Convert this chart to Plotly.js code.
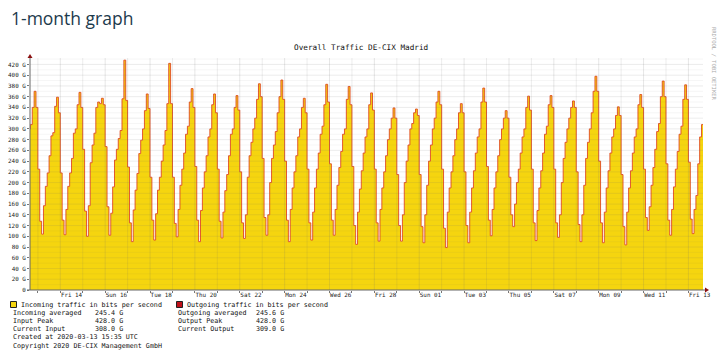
<!DOCTYPE html>
<html><head><meta charset="utf-8">
<script src="https://cdn.plot.ly/plotly-3.0.1.min.js"></script>
<style>html,body{margin:0;padding:0;background:#fff;}#chart{width:720px;height:358px;}</style>
</head><body><div id="chart"></div>
<script>
// 2-hour average values (G bit/s), one array per calendar day (bins 00-02 ... 22-24)
const feb12 = [300, 308, 340, 370, 340];               // from 14:00
const feb13 = [225, 128, 104, 157, 193, 218, 250, 287, 293, 342, 359, 330];
const feb14 = [218, 130, 103, 150, 193, 218, 245, 292, 300, 345, 368, 340];
const feb15 = [262, 147, 100, 157, 237, 270, 292, 340, 350, 347, 357, 345];
const feb16 = [267, 155, 102, 143, 192, 242, 262, 282, 297, 356, 428, 353];
const feb17 = [229, 125, 90, 149, 186, 217, 254, 279, 300, 334, 365, 338];
const feb18 = [210, 130, 93, 142, 186, 210, 240, 270, 297, 347, 422, 347];
const feb19 = [210, 124, 99, 150, 195, 225, 255, 290, 305, 350, 375, 340];
const feb20 = [230, 130, 90, 148, 190, 220, 250, 285, 300, 345, 365, 330];
const feb21 = [225, 128, 97, 145, 185, 215, 250, 290, 300, 340, 362, 335];
const feb22 = [220, 125, 96, 140, 210, 250, 275, 300, 320, 355, 384, 360];
const feb23 = [245, 135, 102, 140, 200, 245, 270, 295, 330, 360, 391, 355];
const feb24 = [240, 130, 90, 150, 190, 220, 250, 285, 300, 340, 357, 330];
const feb25 = [225, 125, 93, 145, 190, 225, 255, 290, 305, 345, 383, 350];
const feb26 = [235, 130, 102, 150, 195, 228, 258, 290, 300, 355, 379, 345];
const feb27 = [230, 120, 85, 145, 188, 222, 255, 285, 300, 345, 367, 335];
const feb28 = [225, 125, 91, 150, 190, 220, 250, 280, 300, 320, 339, 320];
const feb29 = [215, 120, 91, 140, 200, 240, 270, 300, 310, 330, 337, 325];
const mar01 = [215, 118, 88, 140, 195, 240, 270, 300, 320, 350, 370, 345];
const mar02 = [225, 115, 79, 145, 190, 220, 250, 280, 300, 330, 347, 330];
const mar03 = [220, 120, 88, 145, 190, 222, 255, 285, 300, 350, 376, 350];
const mar04 = [230, 130, 101, 150, 190, 220, 250, 280, 300, 320, 334, 320];
const mar05 = [210, 140, 118, 160, 200, 225, 255, 285, 300, 340, 361, 335];
const mar06 = [225, 125, 92, 148, 190, 222, 255, 290, 305, 345, 362, 340];
const mar07 = [225, 125, 98, 140, 200, 245, 275, 300, 320, 340, 352, 340];
const mar08 = [220, 122, 90, 140, 195, 245, 275, 300, 330, 370, 398, 370];
const mar09 = [240, 125, 88, 145, 190, 222, 255, 285, 300, 325, 341, 325];
const mar10 = [215, 118, 84, 145, 190, 222, 255, 285, 300, 345, 364, 340];
const mar11 = [225, 135, 111, 155, 195, 228, 262, 295, 310, 360, 389, 360];
const mar12 = [235, 130, 102, 150, 192, 225, 258, 290, 305, 355, 382, 355];
const mar13 = [238, 132, 105, 150, 176, 235, 285, 308];   // up to 16:00

const days = [feb12, feb13, feb14, feb15, feb16, feb17, feb18, feb19, feb20, feb21, feb22,
  feb23, feb24, feb25, feb26, feb27, feb28, feb29, mar01, mar02, mar03, mar04, mar05,
  mar06, mar07, mar08, mar09, mar10, mar11, mar12, mar13];

const tickDates = ['2020-02-14 12:00','2020-02-16 12:00','2020-02-18 12:00','2020-02-20 12:00',
  '2020-02-22 12:00','2020-02-24 12:00','2020-02-26 12:00','2020-02-28 12:00','2020-03-01 12:00',
  '2020-03-03 12:00','2020-03-05 12:00','2020-03-07 12:00','2020-03-09 12:00','2020-03-11 12:00',
  '2020-03-13 12:00'];
const tickLabels = ['Fri 14','Sun 16','Tue 18','Thu 20','Sat 22','Mon 24','Wed 26','Fri 28',
  'Sun 01','Tue 03','Thu 05','Sat 07','Mon 09','Wed 11','Fri 13'];
const yTicks = [0,20,40,60,80,100,120,140,160,180,200,220,240,260,280,300,320,340,360,380,400,420];
const yTickText = yTicks.map(v => v === 0 ? '0' : v + ' G');

const legendLeft = [['Incoming averaged', '245.4 G'], ['Input Peak', '428.0 G'], ['Current Input', '308.0 G']];
const legendRight = [['Outgoing averaged', '245.6 G'], ['Output Peak', '428.0 G'], ['Current Output', '309.0 G']];

function fmt(ms){ const d = new Date(ms); const p = n => String(n).padStart(2,'0');
  return d.getUTCFullYear()+'-'+p(d.getUTCMonth()+1)+'-'+p(d.getUTCDate())+' '+p(d.getUTCHours())+':'+p(d.getUTCMinutes()); }

const base = Date.UTC(2020, 1, 12);
const xs = [], ys = [];
let lastT = 0, lastV = 0;
days.forEach((arr, i) => {
  const off = (i === 0) ? 24 - 2 * arr.length : 0;
  arr.forEach((v, j) => { lastT = base + i * 864e5 + (off + 2 * j) * 36e5; xs.push(fmt(lastT)); ys.push(v); lastV = v; });
});
xs.push(fmt(lastT + 2 * 36e5)); ys.push(lastV);

// pixel helpers for plot area (x 30..703, y 58..290)
const L = 30, R = 703, T = 58, B = 290, W = 720, H = 358;
const px = x => (x - L) / (R - L);
const py = y => (B - y) / (B - T);

const shapes = [];
// grid lines above fill
for (let i = 1; i <= 30; i++) {
  shapes.push({type:'line', xref:'x', yref:'paper', x0: fmt(base + i*864e5), x1: fmt(base + i*864e5), y0:0, y1:1,
    line:{color: (i % 2 === 0) ? 'rgba(110,110,110,0.17)' : 'rgba(110,110,110,0.12)', width:1}, layer:'above'});
}
for (let v = 10; v <= 430; v += 10) {
  shapes.push({type:'line', xref:'paper', yref:'y', x0:0, x1:1, y0:v, y1:v,
    line:{color: v % 20 === 0 ? 'rgba(110,110,110,0.13)' : 'rgba(110,110,110,0.06)', width:1}, layer:'above'});
}
// axes lines
shapes.push({type:'line', xref:'paper', yref:'paper', x0:px(30), x1:px(30), y0:py(290), y1:py(57), line:{color:'#666', width:1}, layer:'above'});
shapes.push({type:'line', xref:'paper', yref:'paper', x0:px(27), x1:px(706), y0:py(290), y1:py(290), line:{color:'#666', width:1}, layer:'above'});
// arrows
shapes.push({type:'path', xref:'paper', yref:'paper', path:`M ${px(27.5)} ${py(58)} L ${px(32.5)} ${py(58)} L ${px(30)} ${py(54)} Z`, fillcolor:'#8b1010', line:{width:0}, layer:'above'});
shapes.push({type:'path', xref:'paper', yref:'paper', path:`M ${px(705)} ${py(287.5)} L ${px(705)} ${py(292.5)} L ${px(709)} ${py(290)} Z`, fillcolor:'#8b1010', line:{width:0}, layer:'above'});
// legend squares
shapes.push({type:'rect', xref:'paper', yref:'paper', x0:px(10.5), x1:px(16.5), y0:py(307.5), y1:py(301.5), fillcolor:'#f5d50f', line:{color:'#222', width:1}});
shapes.push({type:'rect', xref:'paper', yref:'paper', x0:px(176.5), x1:px(182.5), y0:py(307.5), y1:py(301.5), fillcolor:'#c0101a', line:{color:'#222', width:1}});

const mono = 'DejaVu Sans Mono, Liberation Mono, monospace';
const ann = [];
function txt(x, y, text, size, opts){ ann.push(Object.assign({xref:'paper', yref:'paper', x:px(x), y:py(y), text:text, showarrow:false,
  xanchor:'left', yanchor:'middle', font:{family:mono, size:size, color:'#111'}}, opts||{})); }
txt(9, 18, '1-month graph', 17.5, {font:{family:'Open Sans, Noto Sans, sans-serif', size:17.5, color:'#1d3a4c'}});
txt(360.5, 48, 'Overall Traffic DE-CIX Madrid', 7.7, {xanchor:'center'});
txt(714, 64, 'RRDTOOL / TOBI OETIKER', 5.5, {xanchor:'center', textangle:90, font:{family:mono, size:5.5, color:'#aaa'}});
txt(18.5, 304.5, 'Incoming traffic in bits per second', 6.7);
txt(185, 304.5, 'Outgoing traffic in bits per second', 6.7);
legendLeft.forEach((r, i) => { txt(10.5, 312.8 + i*8.2, r[0], 6.7); txt(92.5, 312.8 + i*8.2, r[1], 6.7); });
legendRight.forEach((r, i) => { txt(176, 312.8 + i*8.2, r[0], 6.7); txt(254, 312.8 + i*8.2, r[1], 6.7); });
txt(10.5, 337.3, 'Created at 2020-03-13 15:35 UTC', 6.7);
txt(10.5, 345.5, 'Copyright 2020 DE-CIX Management GmbH', 6.7);

const data = [
  {x: xs, y: ys, type:'scatter', mode:'lines', line:{shape:'hv', width:0, color:'#f5d50f'}, fill:'tozeroy', fillcolor:'#f5d50f', hoverinfo:'skip'},
  {x: xs, y: ys, type:'scatter', mode:'lines', line:{shape:'hv', width:1, color:'#e04a22'}, opacity:0.9, hoverinfo:'skip'}
];

const layout = {
  width: W, height: H, margin:{l:L, r:W-R, t:T, b:H-B, pad:0},
  paper_bgcolor:'#fff', plot_bgcolor:'#fff', showlegend:false,
  xaxis:{type:'date', range:['2020-02-12 15:35','2020-03-13 15:35'], tickvals:tickDates, ticktext:tickLabels,
    showgrid:false, zeroline:false, showline:false, ticks:'', tickfont:{family:mono, size:5.9, color:'#222'},
    minor:{tick0:'2020-02-13 00:00', dtick:86400000, ticks:'outside', ticklen:2, tickcolor:'#777', showgrid:false}},
  yaxis:{range:[0,432], tickvals:yTicks, ticktext:yTickText, showgrid:false, zeroline:false, showline:false,
    ticks:'outside', ticklen:2, tickcolor:'#777', tickfont:{family:mono, size:5.9, color:'#222'}},
  shapes: shapes, annotations: ann
};
Plotly.newPlot('chart', data, layout, {staticPlot:true, displayModeBar:false});
</script></body></html>
